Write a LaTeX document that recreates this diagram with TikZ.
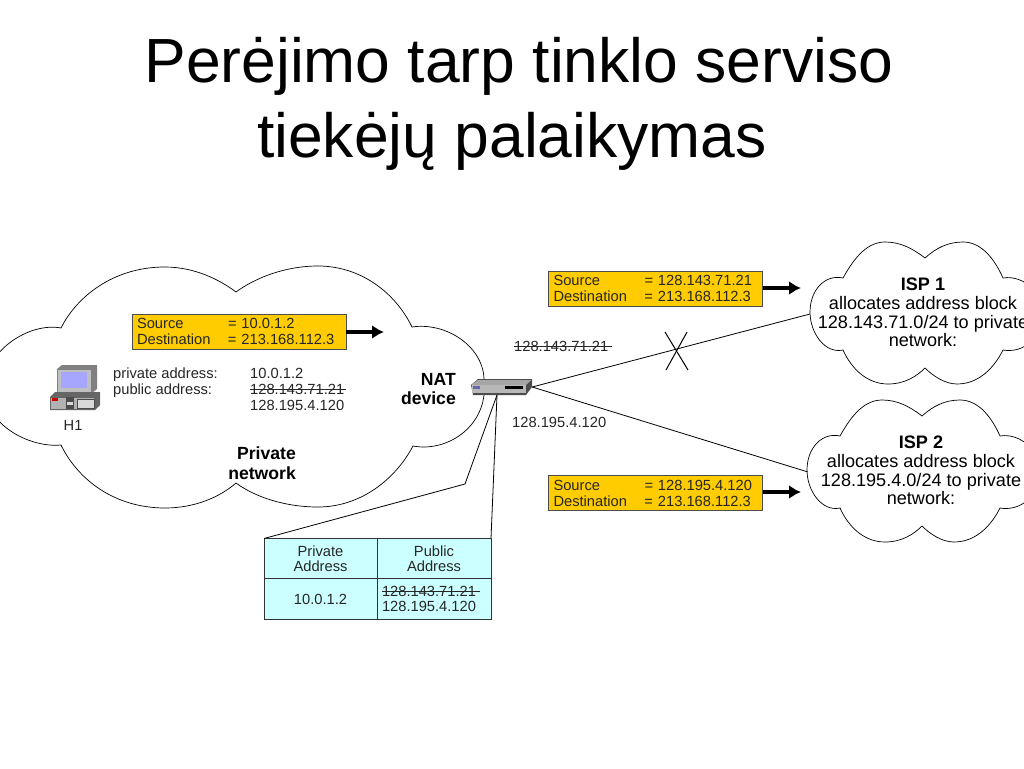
\documentclass[tikz,border=0pt]{standalone}
\usepackage{fontspec}
\setmainfont{Liberation Sans}
\usetikzlibrary{calc,arrows.meta}
\definecolor{pktyellow}{HTML}{FFCC00}
\definecolor{tblcyan}{HTML}{CCFFFF}
\newcommand{\smalltxt}{\fontsize{14.7}{16}\selectfont}
\newcommand{\tbltxt}{\fontsize{14.7}{15.5}\selectfont}
\newcommand{\bigtxt}{\fontsize{17.6}{19.5}\selectfont}
\newcommand{\isptxtsize}{\fontsize{18.1}{18.7}\selectfont}
\newcommand{\pktlines}[2]{\makebox[91pt][l]{Source}= #1\\\makebox[91pt][l]{Destination}= #2}
\newcommand{\ispcloud}[1]{%
\draw[cloudline,shift={#1}](925,258)..controls(912,248)and(900,242)..(885,242)
 ..controls(865,242)and(852,262)..(843,278)
 ..controls(825,274)and(810,290)..(810,312)
 ..controls(810,333)and(825,354)..(843,350)
 ..controls(852,370)and(868,384)..(888,384)
 ..controls(905,384)and(917,376)..(925,368)
 ..controls(933,376)and(945,384)..(957,384)
 ..controls(980,384)and(995,366)..(1003,350)
 ..controls(1012,352)and(1040,350)..(1040,314)
 ..controls(1040,280)and(1012,276)..(1003,278)
 ..controls(995,260)and(982,242)..(963,242)
 ..controls(948,242)and(936,248)..(925,258)--cycle;}
\tikzset{
 cloudline/.style={draw=black,line width=0.7pt},
 wire/.style={draw=black,line width=0.8pt},
 pktbox/.style={draw=black!70,fill=pktyellow,line width=0.8pt,minimum width=214pt,minimum height=35pt,inner sep=0pt,outer sep=0pt,text width=204pt,align=left,font=\smalltxt,text=black!85},
 tblcell/.style={draw=black!80,fill=tblcyan,line width=0.8pt,inner sep=0pt,outer sep=0pt,align=center,font=\tbltxt,text=black!85},
 lbl/.style={inner sep=0pt,anchor=base west,font=\smalltxt,text=black!85},
 boldlbl/.style={inner sep=0pt,font=\bigtxt\bfseries,align=right},
 isptxt/.style={inner sep=0pt,font=\isptxtsize,align=center},
 titletxt/.style={inner sep=0pt,anchor=base,font=\fontsize{62.4}{62}\selectfont},
 pktarrow/.style={line width=3.2pt,-{Latex[length=12pt,width=14pt]}},
}
\begin{document}
\begin{tikzpicture}[x=1pt,y=-1pt]
\useasboundingbox(0,0)rectangle(1024,768);
\fill[white](0,0)rectangle(1024,768);

\node[titletxt](titlea)at(519,82){Perėjimo tarp tinklo serviso};
\node[titletxt](titleb)at(512,157){tiekėjų palaikymas};

% private network
\draw[cloudline](61,328)..controls(76,298)and(112,267)..(165,267)
 ..controls(195,267)and(220,280)..(236,292)
 ..controls(255,278)and(285,266)..(318,266)
 ..controls(360,266)and(395,292)..(412,327)
 ..controls(445,322)and(482,345)..(484,378)
 --(484,395)
 ..controls(480,430)and(445,452)..(413,446)
 ..controls(395,480)and(360,507)..(318,507)
 ..controls(285,507)and(255,497)..(236,483)
 ..controls(220,497)and(195,508)..(165,508)
 ..controls(115,508)and(78,480)..(61,445)
 ..controls(30,448)and(-15,425)..(-15,388)
 ..controls(-15,350)and(30,322)..(61,328)--cycle;

% isp clouds
\ispcloud{(0,0)}
\ispcloud{(-3,158)}

% connectors
\node[inner sep=0pt,minimum width=62pt,minimum height=18pt](nat)at(501,387){};
\coordinate(ispa)at(810,314);
\coordinate(ispb)at(808,472);
\coordinate(bend)at(465,484);
\coordinate(natlow)at(497,395);
\draw[wire](nat.east)--(ispa);
\draw[wire](nat.east)--(ispb);

% table
\node[tblcell,minimum width=113pt,minimum height=40pt](priv)at(320.5,558.5){Private\\Address};
\node[tblcell,minimum width=114pt,minimum height=40pt](pub)at(434,558.5){Public\\Address};
\node[tblcell,minimum width=113pt,minimum height=41pt](privval)at(320.5,599){10.0.1.2};
\node[tblcell,minimum width=114pt,minimum height=41pt,text width=104pt,align=left](pubval)at(434,599){128.143.71.21\\128.195.4.120};
\draw[wire](natlow)--(bend)--(priv.north west);
\draw[wire](natlow)--(pub.north east);
\draw[line width=0.8pt,black!85]($(pubval.center)+(-52,-8)$)--($(pubval.center)+(46,-8)$);

% nat device
\fill[black!70](471,385)--(478,379)--(532,379)--(532,387)--(526,395)--(473,395)--cycle;
\fill[black!35](471,385)--(478,380)--(531,380)--(526,385)--cycle;
\fill[black!28](472,385)rectangle(526,393);
\fill[blue!45!black!60](473,386)rectangle(480,389);
\fill[black](505,386)rectangle(523,389);

% h1
\fill[black!50](57,369)--(62,365)--(97,365)--(97,389)--(92,393)--(57,393)--cycle;
\fill[black!25](58,370)rectangle(91,392);
\fill[blue!35!white](61,372)rectangle(87,388);
\fill[black!60](50,397)--(55,392)--(100,392)--(100,405)--(95,410)--(50,410)--cycle;
\fill[black!30](51,398)rectangle(94,409);
\fill[red!80!black](52,398)rectangle(58,401);
\fill[black!70](66,397)rectangle(74,409);
\fill[black!15](67,402)rectangle(73,405);
\draw[black!70,fill=black!15](77,399)rectangle(94,408);
\node[lbl](hosta)at(63.5,430){H1};

% labels
\node[pktbox](pkta)at(239,331.5){\pktlines{10.0.1.2}{213.168.112.3}};
\node[pktbox](pktb)at(655.5,288.5){\pktlines{128.143.71.21}{213.168.112.3}};
\node[pktbox](pktc)at(655.5,493){\pktlines{128.195.4.120}{213.168.112.3}};
\coordinate(arra)at(384,332);
\coordinate(arrb)at(801,288);
\coordinate(arrc)at(801,492);
\draw[pktarrow](pkta.east|-arra)--(arra);
\draw[pktarrow](pktb.east|-arrb)--(arrb);
\draw[pktarrow](pktc.east|-arrc)--(arrc);

\node[lbl](addra)at(113,378){private address:};
\node[lbl](addrb)at(113,394){public address:};
\node[lbl](vala)at(250,378){10.0.1.2};
\node[lbl](valb)at(250,394){128.143.71.21};
\node[lbl](valc)at(250,410){128.195.4.120};
\draw[line width=0.8pt,black!85](valb.west)--([xshift=2pt]valb.east);
\node[boldlbl,anchor=east](prnet)at(296,463){Private\\network};
\node[boldlbl,anchor=east](natlbl)at(456,389){NAT\\device};
\node[lbl](ipa)at(514,351){128.143.71.21};
\draw[line width=0.8pt,black!85](ipa.west)--([xshift=4pt]ipa.east);
\node[lbl](ipb)at(512,427){128.195.4.120};

\draw[line width=1pt](665,332)--(688,370);
\draw[line width=1pt](687,332)--(666,370);

\node[isptxt](ispatxt)at(923,312.5){\textbf{ISP 1}\\allocates address block\\128.143.71.0/24 to private\\network:};
\node[isptxt](ispbtxt)at(921,470.5){\textbf{ISP 2}\\allocates address block\\128.195.4.0/24 to private\\network:};
\end{tikzpicture}
\end{document}
